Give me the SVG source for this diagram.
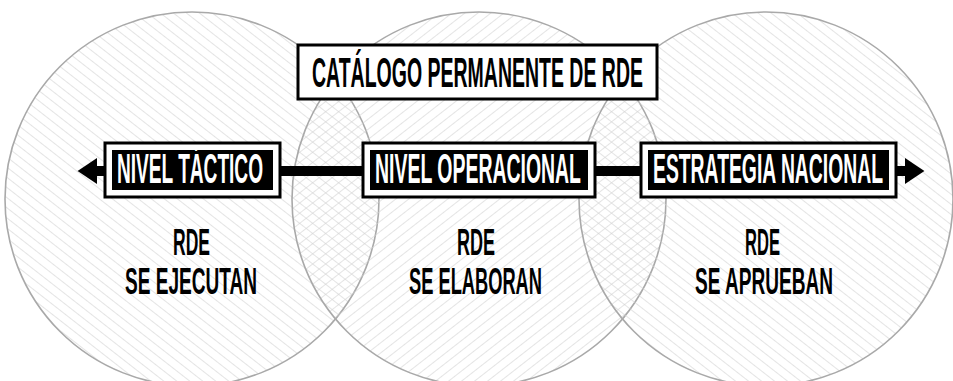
<svg xmlns="http://www.w3.org/2000/svg" width="953" height="381" viewBox="0 0 953 381">
<style>
.circ{stroke:#a9a9a9;stroke-width:1.6}
.outer{fill:#fff;stroke:#000;stroke-width:3}
.inner{fill:#000}
.lbl{font-family:"Liberation Sans",Arial,sans-serif;font-weight:bold}
.wt{fill:#fff;font-size:43px}
.bk{fill:#000;font-size:43px}
.sm{fill:#000;font-size:36px}
.conn{stroke:#000;stroke-width:10;fill:none}
</style>
<defs>
<pattern id="hatchR" patternUnits="userSpaceOnUse" width="8" height="8" patternTransform="rotate(-52)">
<line x1="0" y1="0" x2="0" y2="8" stroke="#d2d2d2" stroke-width="1.2"/>
</pattern>
<pattern id="hatchL" patternUnits="userSpaceOnUse" width="8" height="8" patternTransform="rotate(52)">
<line x1="0" y1="0" x2="0" y2="8" stroke="#d2d2d2" stroke-width="1.2"/>
</pattern>
<marker id="head" markerUnits="userSpaceOnUse" markerWidth="20" markerHeight="26" viewBox="0 0 18 24" refX="1" refY="12" orient="auto-start-reverse">
<polygon points="0,0 18,12 0,24" fill="#000"/>
</marker>
</defs>
<rect width="953" height="381" fill="#fff"/>
<g id="circles">
<circle class="circ" cx="192" cy="199" r="187" fill="url(#hatchR)"/>
<circle class="circ" cx="479" cy="199" r="187" fill="url(#hatchL)"/>
<circle class="circ" cx="766" cy="199" r="187" fill="url(#hatchR)"/>
</g>
<g id="connectors">
<line class="conn" x1="96" y1="171" x2="906" y2="171" marker-start="url(#head)" marker-end="url(#head)"/>
</g>
<g id="catalogo">
<rect class="outer" x="298" y="45" width="359" height="54"/>
<text class="lbl bk" x="312" y="87" textLength="331" lengthAdjust="spacingAndGlyphs">CATÁLOGO PERMANENTE DE RDE</text>
</g>
<g id="nivel-tactico">
<rect class="outer" x="105" y="143" width="175" height="54"/>
<rect class="inner" x="112" y="150" width="161" height="40"/>
<text class="lbl wt" x="117" y="183" textLength="146" lengthAdjust="spacingAndGlyphs">NIVEL TÁCTICO</text>
</g>
<g id="nivel-operacional">
<rect class="outer" x="363" y="143" width="232" height="54"/>
<rect class="inner" x="370" y="150" width="218" height="40"/>
<text class="lbl wt" x="375" y="183" textLength="206" lengthAdjust="spacingAndGlyphs">NIVEL OPERACIONAL</text>
</g>
<g id="estrategia-nacional">
<rect class="outer" x="641" y="143" width="255" height="54"/>
<rect class="inner" x="648" y="150" width="241" height="40"/>
<text class="lbl wt" x="653" y="183" textLength="230" lengthAdjust="spacingAndGlyphs">ESTRATEGIA NACIONAL</text>
</g>
<g id="ejecutan">
<text class="lbl sm" x="173" y="255" textLength="37" lengthAdjust="spacingAndGlyphs">RDE</text>
<text class="lbl sm" x="125" y="294" textLength="132" lengthAdjust="spacingAndGlyphs">SE EJECUTAN</text>
</g>
<g id="elaboran">
<text class="lbl sm" x="457" y="255" textLength="38" lengthAdjust="spacingAndGlyphs">RDE</text>
<text class="lbl sm" x="409" y="294" textLength="133" lengthAdjust="spacingAndGlyphs">SE ELABORAN</text>
</g>
<g id="aprueban">
<text class="lbl sm" x="745" y="255" textLength="35" lengthAdjust="spacingAndGlyphs">RDE</text>
<text class="lbl sm" x="695" y="294" textLength="138" lengthAdjust="spacingAndGlyphs">SE APRUEBAN</text>
</g>
</svg>
